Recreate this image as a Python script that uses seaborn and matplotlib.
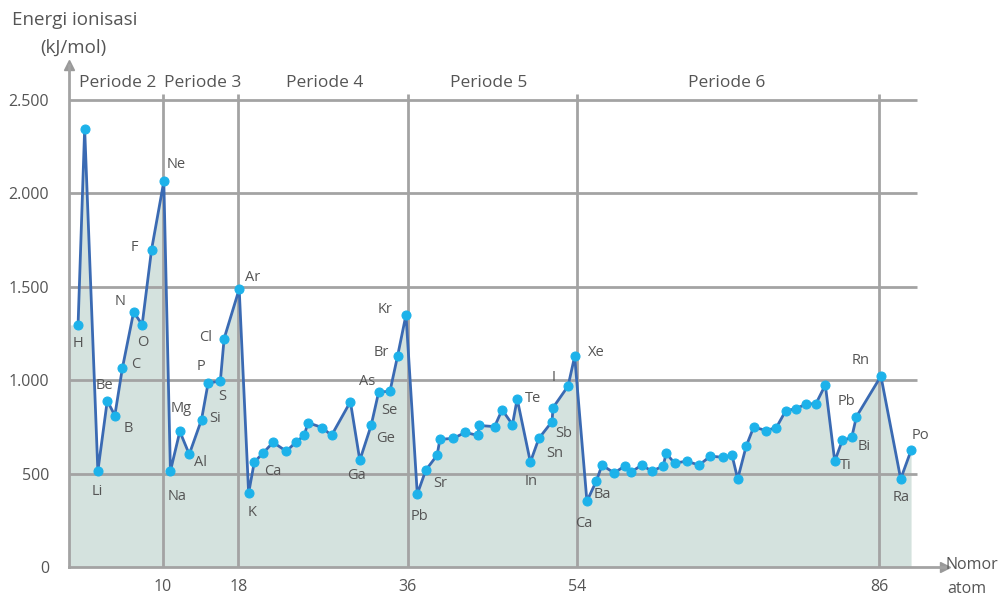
import matplotlib
matplotlib.use("Agg")
import matplotlib.pyplot as plt
import numpy as np
import pandas as pd
import seaborn as sns

# atomic number (as positioned in the picture) and first ionisation energy, kJ/mol
atom_x = [
    1.0, 1.7, 3.1, 4.1, 4.9, 5.7, 6.9, 7.8, 8.8, 10.1,
    10.8, 11.8, 12.8, 14.1, 14.8, 16.1, 16.5, 18.1,
    19.1, 19.7, 20.6, 21.7, 23.1, 24.1, 25.0, 25.4, 26.9, 27.9, 29.9,
    30.9, 32.1, 32.9, 34.1, 34.9, 35.8,
    37.0, 37.9, 39.1, 39.4, 40.8, 42.1, 43.4, 43.6, 45.2, 46.0, 47.1, 47.6,
    49.0, 49.9, 51.3, 51.4, 53.0, 53.7,
    55.0, 56.0, 56.6, 57.9, 59.0, 59.7, 60.8, 61.9, 63.1, 63.4, 64.3, 65.6,
    66.9, 68.1, 69.4, 70.4, 71.0, 71.9, 72.7, 74.0, 75.1, 76.1, 77.2, 78.3,
    79.3, 80.3, 81.3, 82.1, 83.1, 83.6, 86.2, 88.3, 89.4,
]
energy = [
    1295, 2345, 513, 890, 810, 1063, 1365, 1296, 1698, 2063,
    513, 725, 603, 788, 984, 995, 1222, 1487,
    395, 561, 608, 667, 619, 667, 704, 772, 746, 704, 884,
    571, 757, 936, 940, 1127, 1349,
    390, 518, 598, 683, 688, 720, 704, 757, 751, 841, 762, 899,
    561, 688, 778, 852, 968, 1127,
    352, 460, 545, 503, 540, 508, 545, 513, 540, 608, 556, 566,
    545, 593, 587, 598, 471, 646, 749, 730, 746, 836, 847, 873,
    873, 974, 566, 677, 693, 804, 1021, 471, 624,
]

# element labels as printed in the picture, with the point index they belong to
label_text = ["H", "Li", "Be", "B", "C", "N", "O", "F", "Ne", "Na", "Mg", "Al",
              "Si", "P", "S", "Cl", "Ar", "K", "Ca", "Ga", "Ge", "As", "Se",
              "Br", "Kr", "Pb", "Sr", "In", "Sn", "Sb", "Te", "I", "Xe", "Ca",
              "Ba", "Ti", "Pb", "Bi", "Rn", "Ra", "Po"]
label_idx = [0, 2, 3, 4, 5, 6, 7, 8, 9, 10, 11, 12, 13, 14, 15, 16, 17, 18, 19,
             29, 30, 31, 32, 33, 34, 35, 36, 47, 48, 49, 46, 51, 52, 53, 54,
             79, 78, 81, 83, 84, 85]
# label offsets from the point, in pixels
label_off = [(0, -19), (-1, -20), (-3, 15), (13, -13), (13, 4), (-14, 10),
             (1, -18), (-17, 2), (12, 17), (7, -25), (1, 23), (11, -8),
             (14, 1), (-7, 17), (2, -15), (-18, 1), (13, 12), (3, -19),
             (19, -9), (-3, -15), (14, -13), (-12, 11), (-1, -19), (-16, 4),
             (-21, 5), (2, -22), (14, -13), (1, -19), (16, -15), (12, -12),
             (16, 0), (-14, 9), (22, 4), (-3, -22), (6, -14), (11, -4),
             (21, -17), (12, -9), (-20, 16), (0, -19), (9, 15)]

period_names = ["Periode 2", "Periode 3", "Periode 4", "Periode 5", "Periode 6"]
period_x = [5.2, 14.2, 27.2, 44.6, 69.8]
period_bounds = [10, 18, 36, 54, 86]
y_ticks = [0, 500, 1000, 1500, 2000, 2500]
y_tick_labels = ["0", "500", "1.000", "1.500", "2.000", "2.500"]

df = pd.DataFrame({"x": atom_x, "y": energy})

sns.set_style("white")
plt.rcParams["font.family"] = ["Open Sans", "DejaVu Sans"]
text_col = "#555555"
grid_col = "#a3a3a3"

fig = plt.figure(figsize=(10.05, 5.96), dpi=100)
ax = fig.add_axes([0.0683, 0.0487, 0.872, 0.842])
ax.set_xlim(0, 93)
ax.set_ylim(0, 2685)

# shaded area under the curve, starting at the y axis
fx = np.r_[0, df["x"]]
fy = np.r_[df["y"].iloc[0], df["y"]]
ax.fill_between(fx, 0, fy, color="#d4e2de", zorder=1, lw=0)

ax.hlines(y_ticks[1:], 0, 90, color=grid_col, lw=2, zorder=2)
ax.vlines(period_bounds, 0, 2530, color=grid_col, lw=2, zorder=2)

sns.lineplot(data=df, x="x", y="y", sort=False, ax=ax, color="#3a6ab3", lw=2,
             marker="o", markersize=6.5, markerfacecolor="#1db2ea",
             markeredgecolor="#1db2ea", zorder=4)

for txt, i, (dx, dy) in zip(label_text, label_idx, label_off):
    ax.annotate(txt, (atom_x[i], energy[i]), xytext=(dx, dy),
                textcoords="offset pixels", ha="center", va="center",
                fontsize=10.5, color=text_col, zorder=5)

for name, px in zip(period_names, period_x):
    ax.text(px, 2590, name, ha="center", va="center", fontsize=12.5,
            color=text_col)

ax.set_yticks(y_ticks)
ax.set_yticklabels(y_tick_labels)
ax.set_xticks(period_bounds)
ax.set_xticklabels([str(v) for v in period_bounds])
ax.tick_params(length=0, labelsize=11.5, labelcolor=text_col)
ax.tick_params(axis="y", pad=14)
ax.tick_params(axis="x", pad=9)
ax.set_xlabel("")
ax.set_ylabel("")

for side in ["top", "right"]:
    ax.spines[side].set_visible(False)
for side in ["left", "bottom"]:
    ax.spines[side].set_color(grid_col)
    ax.spines[side].set_linewidth(2)
ax.plot(1, 0, ">", transform=ax.get_yaxis_transform(), clip_on=False,
        color="#999999", markersize=7)
ax.plot(0, 1, "^", transform=ax.get_xaxis_transform(), clip_on=False,
        color="#999999", markersize=7)

fig.text(0.074, 0.966, "Energi ionisasi", ha="center", va="center",
         fontsize=13.5, color=text_col)
fig.text(0.073, 0.919, "(kJ/mol)", ha="center", va="center",
         fontsize=13.5, color=text_col)
fig.text(0.941, 0.052, "Nomor", ha="left", va="center", fontsize=11.5,
         color=text_col)
fig.text(0.943, 0.012, "atom", ha="left", va="center", fontsize=11.5,
         color=text_col)

fig.savefig("out.png", dpi=100)
plt.close(fig)
